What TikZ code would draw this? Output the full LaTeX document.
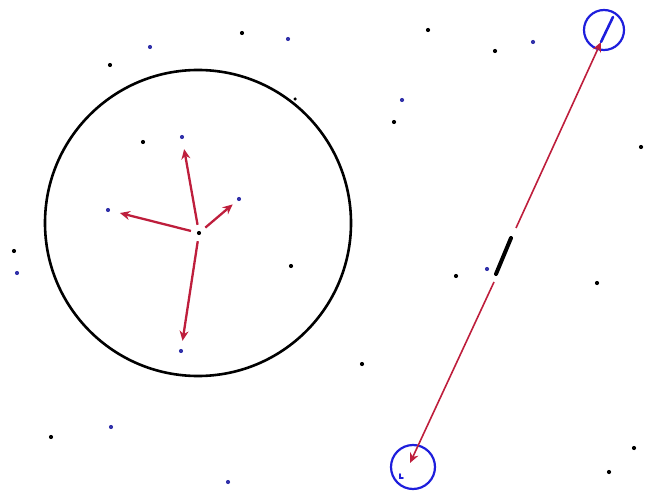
\documentclass[tikz,border=0pt]{standalone}
\usetikzlibrary{arrows.meta}
\definecolor{arrred}{RGB}{190,30,60}
\definecolor{ringblue}{RGB}{30,30,220}
\definecolor{dotblue}{RGB}{50,50,170}
\tikzset{
  bdot/.style={circle,fill=black,inner sep=0pt,minimum size=4.2pt},
  udot/.style={circle,fill=dotblue,inner sep=0pt,minimum size=4.2pt},
  redarrow/.style={draw=arrred,line width=2.3pt,-{Stealth[length=10pt,width=9pt]},shorten <=6pt},
  longarrow/.style={draw=arrred,line width=1.6pt,-{Stealth[length=10pt,width=9pt]}},
  ring/.style={circle,draw=ringblue,line width=2.2pt,inner sep=0pt},
  bigring/.style={circle,draw=black,line width=2.6pt,inner sep=0pt,minimum size=306pt}
}
\begin{document}
\begin{tikzpicture}[x=1pt,y=-1pt]
\useasboundingbox (0,0) rectangle (656,492);
% big circle
\node[bigring] (big) at (198,223) {};
% dots
\node[bdot] (k1) at (110,65) {};
\node[udot] (b1) at (150,47) {};
\node[bdot] (k2) at (242,33) {};
\node[udot] (b2) at (288,39) {};
\node[bdot,minimum size=3.5pt] (k3) at (295,99) {};
\node[bdot] (k4) at (428,30) {};
\node[bdot] (k5) at (495,51) {};
\node[udot] (b3) at (533,42) {};
\node[udot] (b4) at (402,100) {};
\node[bdot] (k6) at (394,122) {};
\node[bdot] (k7) at (641,147) {};
\node[bdot] (k8) at (143,142) {};
\node[udot] (bu) at (182,137) {};
\node[udot] (br) at (239,199) {};
\node[udot] (bl) at (108,210) {};
\node[bdot] (c) at (199,233) {};
\node[udot] (bd) at (181,351) {};
\node[bdot] (k9) at (14,251) {};
\node[udot] (b5) at (17,273) {};
\node[bdot] (k10) at (291,266) {};
\node[udot] (b6) at (111,427) {};
\node[bdot] (k11) at (51,437) {};
\node[udot] (b7) at (228,482) {};
\node[bdot] (k12) at (456,276) {};
\node[udot] (b8) at (487,269) {};
\node[bdot] (k13) at (597,283) {};
\node[bdot] (k14) at (362,364) {};
\node[bdot] (k15) at (634,448) {};
\node[bdot] (k16) at (609,472) {};
% arrows from centre
\draw[redarrow,shorten >=10pt] (c) -- (bu);
\draw[redarrow,shorten >=10pt] (c) -- (bl);
\draw[redarrow,shorten >=6pt] (c) -- (br);
\draw[redarrow,shorten >=8pt] (c) -- (bd);
% rings
\node[ring,minimum size=40pt] (rt) at (604,30) {};
\node[ring,minimum size=44pt] (rb) at (413,467) {};
% long arrow with gap
\coordinate (m1) at (516,228);
\coordinate (m2) at (494,282);
\coordinate (ta) at (601,42);
\coordinate (tb) at (613,17);
\coordinate (ba) at (410,463);
\coordinate (s1) at (496,274);
\coordinate (s2) at (511,238);
\draw[longarrow] (m1) -- (ta);
\draw[longarrow] (m2) -- (ba);
\draw[black,line width=4pt,line cap=round] (s1) -- (s2);
\draw[ringblue,line width=2.6pt,line cap=round] (ta) -- (tb);
\draw[ringblue,line width=1.8pt,line cap=round] (400,474) -- (400,478) -- (403,478);
\end{tikzpicture}
\end{document}
